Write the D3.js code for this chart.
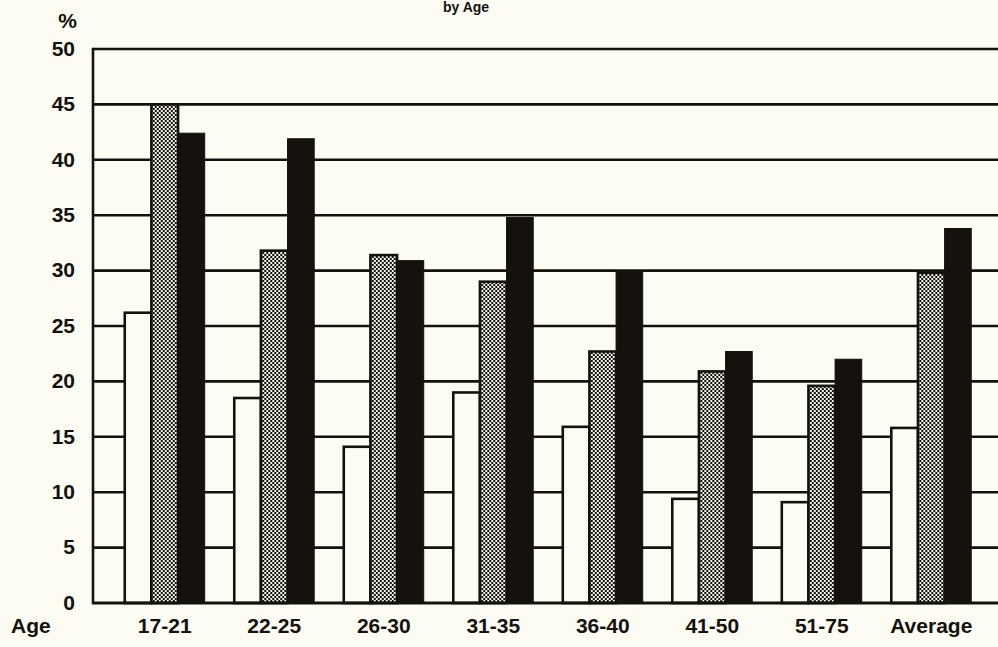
<!DOCTYPE html>
<html>
<head>
<meta charset="utf-8">
<script src="https://cdn.jsdelivr.net/npm/d3@7"></script>
<style>
  html, body { margin: 0; padding: 0; background: #fcfcf3; }
  svg { display: block; }
  text { font-family: "Liberation Sans", Arial, Helvetica, sans-serif; font-weight: bold; fill: #15120e; }
</style>
</head>
<body>
<div id="chart"></div>
<script>
const categories = ["17-21", "22-25", "26-30", "31-35", "36-40", "41-50", "51-75", "Average"];
const seriesNames = ["white", "stipple", "black"];
const whiteValues = [26.2, 18.5, 14.1, 19.0, 15.9, 9.4, 9.1, 15.8];
const stippleValues = [45.0, 31.8, 31.4, 29.0, 22.7, 20.9, 19.6, 29.8];
const blackValues = [42.4, 41.9, 30.9, 34.8, 30.0, 22.7, 22.0, 33.8];
const yTickValues = [0, 5, 10, 15, 20, 25, 30, 35, 40, 45, 50];
const titleText = "by Age";
const yUnit = "%";
const xAxisName = "Age";

const W = 998, H = 647;
const bg = "#fcfcf3", ink = "#15120e";
const svg = d3.select("#chart").append("svg").attr("width", W).attr("height", H);
svg.append("rect").attr("width", W).attr("height", H).attr("fill", bg);

const defs = svg.append("defs");
const pat = defs.append("pattern").attr("id", "stip").attr("patternUnits", "userSpaceOnUse")
  .attr("width", 4).attr("height", 4);
pat.append("rect").attr("width", 4).attr("height", 4).attr("fill", "#f4f4ea");
pat.append("rect").attr("x", 0).attr("y", 0).attr("width", 2).attr("height", 2).attr("fill", ink);
pat.append("rect").attr("x", 2).attr("y", 2).attr("width", 2).attr("height", 2).attr("fill", ink);

const left = 93, right = 998;
const y = d3.scaleLinear().domain([0, 50]).range([603, 49]);
const x0 = d3.scaleBand().domain(categories).range([left, 1003]).paddingInner(0.27).paddingOuter(0.29);
const x1 = d3.scaleBand().domain(seriesNames).range([0, x0.bandwidth()]).padding(0);

const rows = categories.map((c, i) => ({
  cat: c,
  vals: [
    { s: "white", v: whiteValues[i] },
    { s: "stipple", v: stippleValues[i] },
    { s: "black", v: blackValues[i] }
  ]
}));

// gridlines
svg.append("g").selectAll("line").data(yTickValues.filter(d => d > 0)).join("line")
  .attr("x1", left).attr("x2", right)
  .attr("y1", d => y(d)).attr("y2", d => y(d))
  .attr("stroke", ink).attr("stroke-width", 2.6);

// bars
const groups = svg.append("g").selectAll("g").data(rows).join("g")
  .attr("transform", d => `translate(${x0(d.cat)},0)`);
groups.selectAll("rect").data(d => d.vals).join("rect")
  .attr("x", d => x1(d.s))
  .attr("width", x1.bandwidth())
  .attr("y", d => y(d.v))
  .attr("height", d => y(0) - y(d.v))
  .attr("fill", d => d.s === "white" ? bg : d.s === "stipple" ? "url(#stip)" : ink)
  .attr("stroke", ink)
  .attr("stroke-width", d => d.s === "black" ? 1 : 2.6);

// axes frame
svg.append("line").attr("x1", left).attr("x2", left).attr("y1", y(50) - 1.3).attr("y2", y(0) + 1.3)
  .attr("stroke", ink).attr("stroke-width", 2.6);
svg.append("line").attr("x1", left).attr("x2", right).attr("y1", y(0)).attr("y2", y(0))
  .attr("stroke", ink).attr("stroke-width", 3);

// y tick labels
const yAxis = d3.axisLeft(y).tickValues(yTickValues).tickSize(0).tickPadding(0).tickFormat(d3.format("d"));
const ya = svg.append("g").attr("transform", "translate(75,0)").call(yAxis);
ya.select(".domain").remove();
ya.selectAll("text").attr("font-size", 21).attr("font-family", "'Liberation Sans', Arial, sans-serif")
  .attr("font-weight", "bold").attr("fill", ink).attr("dy", "0.3em");
svg.append("text").attr("x", 77).attr("y", 28).attr("text-anchor", "end").attr("font-size", 21).text(yUnit);

// x labels
const xAxis = d3.axisBottom(x0).tickSize(0).tickPadding(0);
const xa = svg.append("g").attr("transform", "translate(0,618)").call(xAxis);
xa.select(".domain").remove();
xa.selectAll("text").attr("font-size", 21).attr("font-family", "'Liberation Sans', Arial, sans-serif")
  .attr("font-weight", "bold").attr("fill", ink).attr("dy", "0.71em");
svg.append("text").attr("x", 11).attr("y", 633).attr("font-size", 21).text(xAxisName);

// title (at the very top, as in the scan)
svg.append("text").attr("x", 466).attr("y", 12).attr("text-anchor", "middle").attr("font-size", 14).text(titleText);
</script>
</body>
</html>
